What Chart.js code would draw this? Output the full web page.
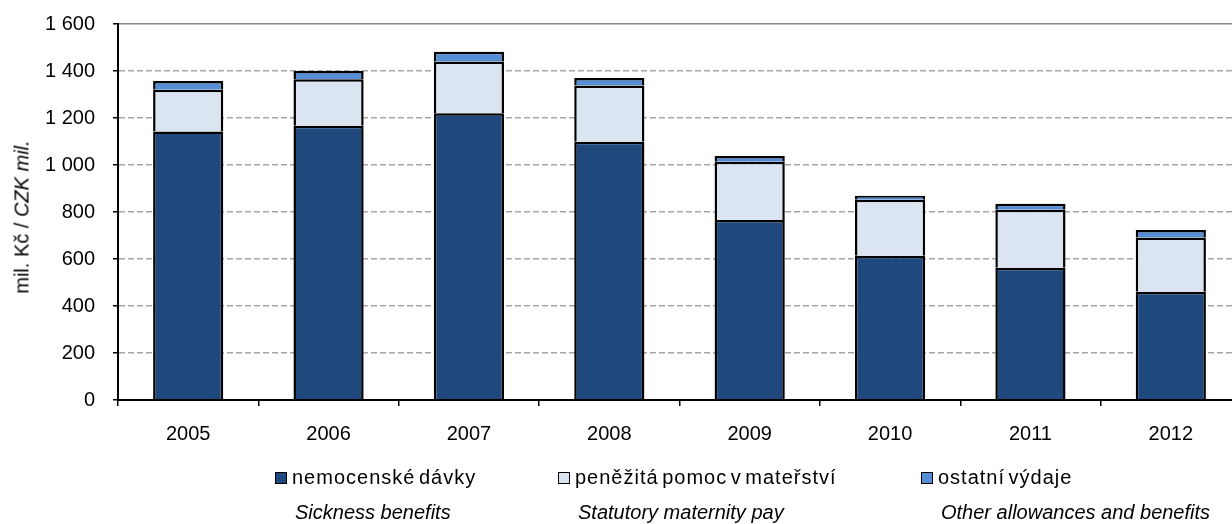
<!DOCTYPE html>
<html>
<head>
<meta charset="utf-8">
<script src="https://cdn.jsdelivr.net/npm/chart.js@4"></script>
<style>
  body { margin: 0; overflow: hidden; background: #fff; font-family: "Liberation Sans", Arial, sans-serif; }
  .wrap { position: relative; width: 1250px; height: 524px; }
  .wrap canvas { position: absolute; left: 0; top: 0; }
  .ytitle { position: absolute; left: 22px; top: 217px; transform: translate(-50%, -50%) rotate(-90deg);
            white-space: nowrap; font-size: 20px; color: #000; }
  .leg { position: absolute; font-size: 20px; color: #000; white-space: nowrap; }
  .leg .box { position: absolute; width: 10px; height: 10px; border: 1.5px solid #000; }
  .leg .cz { position: absolute; letter-spacing: 1px; word-spacing: -3px; }
  .leg .en { position: absolute; font-style: italic; }
</style>
</head>
<body>
<div class="wrap">
  <canvas id="myChart" width="1250" height="524"></canvas>
  <div class="ytitle">mil. Kč / <i>CZK mil.</i></div>
  <div id="legend"></div>
</div>
<script>
const years = ['2005', '2006', '2007', '2008', '2009', '2010', '2011', '2012'];
const sickness = [1143, 1167, 1220, 1099, 766, 614, 563, 461];
const maternity = [177, 198, 220, 239, 248, 238, 247, 230];
const other = [37, 35, 42, 32, 24, 17, 25, 32];
const namesCz = ['nemocenské dávky', 'peněžitá pomoc v mateřství', 'ostatní výdaje'];
const namesEn = ['Sickness benefits', 'Statutory maternity pay', 'Other allowances and benefits'];
const colors = ['#1F497D', '#DBE5F1', '#558ED5'];

const fontFam = '"Liberation Sans", Arial, sans-serif';

// legend (two lines: czech + english)
const legX = [275, 558, 921];
const legend = document.getElementById('legend');
namesCz.forEach((name, i) => {
  const d = document.createElement('div');
  d.className = 'leg';
  d.style.left = legX[i] + 'px';
  d.style.top = '0px';
  d.innerHTML = `<span class="box" style="left:0;top:472px;background:${colors[i]}"></span>` +
    `<span class="cz" style="left:17px;top:466px">${name}</span>` +
    `<span class="en" style="left:20px;top:501px">${namesEn[i]}</span>`;
  legend.appendChild(d);
});

const ctx = document.getElementById('myChart');
const mkSet = (label, data, color) => ({
  label: label,
  data: data,
  backgroundColor: color,
  borderColor: '#000',
  borderWidth: 2.5,
  categoryPercentage: 0.5,
  barPercentage: 1
});

new Chart(ctx, {
  type: 'bar',
  data: {
    labels: years,
    datasets: [
      mkSet(namesCz[0], sickness, colors[0]),
      mkSet(namesCz[1], maternity, colors[1]),
      mkSet(namesCz[2], other, colors[2])
    ]
  },
  options: {
    responsive: false,
    animation: false,
    layout: { padding: { top: 24, right: 9, bottom: 0, left: 0 } },
    plugins: { legend: { display: false }, tooltip: { enabled: false } },
    scales: {
      x: {
        stacked: true,
        afterFit: (s) => { s.height = 124; },
        grid: { drawOnChartArea: false, drawTicks: true, tickLength: 6, color: '#000', tickColor: '#000', lineWidth: 1.5, offset: true },
        border: { color: '#000', width: 2, z: 1 },
        ticks: { color: '#000', padding: 16, font: { size: 20, family: fontFam } }
      },
      y: {
        stacked: true,
        min: 0,
        max: 1600,
        afterFit: (s) => { s.width = 118; s.paddingTop = 0; s.paddingBottom = 0; },
        grid: {
          color: (c) => (c.tick && c.tick.value === 1600) ? '#868686' : '#a6a6a6',
          tickColor: '#000',
          tickLength: 5,
          lineWidth: 1.5
        },
        border: {
          color: '#000', width: 2, z: 1,
          dash: (c) => (c.tick && c.tick.value !== 1600) ? [6, 3] : []
        },
        ticks: {
          stepSize: 200,
          color: '#000',
          padding: 18,
          font: { size: 20, family: fontFam },
          callback: (v) => String(v).replace(/\B(?=(\d{3})+(?!\d))/g, ' ')
        }
      }
    }
  }
});
</script>
</body>
</html>
